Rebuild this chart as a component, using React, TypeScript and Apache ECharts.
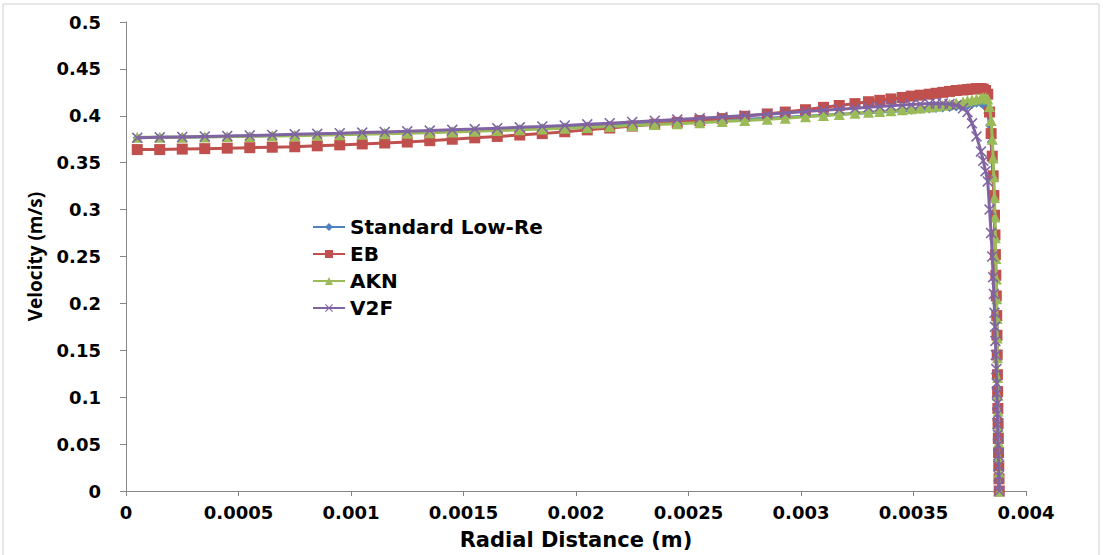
import React, { useEffect, useRef } from "react";
import * as echarts from "echarts";

// Radial positions (m) of the mesh points
const radialDistance = [
  0.00005, 0.00015, 0.00025, 0.00035, 0.00045, 0.00055, 0.00065, 0.00075, 0.00085, 0.00095,
  0.00105, 0.00115, 0.00125, 0.00135, 0.00145, 0.00155, 0.00165, 0.00175, 0.00185, 0.00195,
  0.00205, 0.00215, 0.00225, 0.00235, 0.00245, 0.00255, 0.00265, 0.00275, 0.00285,
  0.00293, 0.00302, 0.0031, 0.00317, 0.00324, 0.0033, 0.00335, 0.0034, 0.00345, 0.00349,
  0.00353, 0.00357, 0.0036, 0.00363, 0.00366, 0.00369, 0.00372, 0.00374, 0.00376, 0.00378,
  0.0038, 0.00381, 0.00382, 0.00383,
  0.003838, 0.003845, 0.00385, 0.003854, 0.003857, 0.00386, 0.003862, 0.003864, 0.003866, 0.003868,
  0.00387, 0.003871, 0.003872, 0.003873, 0.003874, 0.003875, 0.003876, 0.003877, 0.003878, 0.003879,
  0.00388, 0.003881,
];

const standardLowRe = [
  0.3765, 0.377, 0.3773, 0.3777, 0.378, 0.3785, 0.379, 0.3795, 0.38, 0.3806,
  0.3812, 0.3818, 0.3825, 0.3832, 0.3839, 0.3847, 0.3855, 0.3863, 0.3872, 0.3881,
  0.389, 0.39, 0.391, 0.392, 0.393, 0.3941, 0.3952, 0.3963, 0.3974,
  0.3984, 0.3996, 0.4007, 0.4016, 0.4025, 0.4033, 0.404, 0.4047, 0.4054, 0.406,
  0.4066, 0.4072, 0.4077, 0.4082, 0.4088, 0.4094, 0.41, 0.4108, 0.412, 0.4135,
  0.4135, 0.412, 0.409, 0.403,
  0.39, 0.372, 0.352, 0.332, 0.312, 0.291, 0.27, 0.249, 0.228, 0.207,
  0.186, 0.166, 0.146, 0.126, 0.107, 0.09, 0.073, 0.057, 0.042, 0.027,
  0.012, 0.0,
];

const eb = [
  0.364, 0.364, 0.3645, 0.365, 0.3655, 0.366, 0.3665, 0.367, 0.368, 0.369,
  0.37, 0.371, 0.372, 0.3735, 0.375, 0.3765, 0.378, 0.3795, 0.381, 0.383,
  0.385, 0.387, 0.389, 0.391, 0.393, 0.395, 0.397, 0.3995, 0.402,
  0.404, 0.4065, 0.409, 0.411, 0.413, 0.415, 0.4165, 0.418, 0.4195, 0.421,
  0.422, 0.423, 0.424, 0.425, 0.426, 0.427, 0.4275, 0.428, 0.4285, 0.429,
  0.429, 0.4285, 0.427, 0.423,
  0.404, 0.381, 0.357, 0.336, 0.315, 0.294, 0.273, 0.252, 0.23, 0.208,
  0.187, 0.166, 0.145, 0.124, 0.106, 0.088, 0.072, 0.056, 0.041, 0.027,
  0.013, 0.0,
];

const akn = [
  0.377, 0.377, 0.3772, 0.3775, 0.3778, 0.378, 0.3784, 0.3788, 0.3792, 0.3797,
  0.3802, 0.3808, 0.3814, 0.382, 0.3827, 0.3834, 0.3842, 0.385, 0.3858, 0.3867,
  0.3876, 0.3886, 0.3896, 0.3906, 0.3916, 0.3927, 0.3938, 0.395, 0.3962,
  0.3975, 0.399, 0.4003, 0.4015, 0.4027, 0.4037, 0.4046, 0.4055, 0.4065, 0.4074,
  0.4083, 0.4093, 0.4101, 0.4112, 0.4124, 0.4137, 0.415, 0.416, 0.417, 0.418,
  0.419, 0.4195, 0.4195, 0.418,
  0.41, 0.395, 0.375, 0.355, 0.335, 0.313, 0.292, 0.27, 0.248, 0.226,
  0.205, 0.184, 0.163, 0.142, 0.121, 0.102, 0.085, 0.068, 0.052, 0.036,
  0.02, 0.0,
];

const v2f = [
  0.3765, 0.377, 0.3775, 0.378, 0.3785, 0.379, 0.3796, 0.3802, 0.3808, 0.3814,
  0.3821, 0.3828, 0.3835, 0.3843, 0.3851, 0.3859, 0.3868, 0.3877, 0.3886, 0.3897,
  0.3909, 0.3921, 0.3934, 0.3947, 0.396, 0.3974, 0.3988, 0.4002, 0.4016,
  0.403, 0.4045, 0.4058, 0.4069, 0.408, 0.409, 0.4098, 0.4106, 0.4114, 0.412,
  0.4126, 0.413, 0.4132, 0.4131, 0.4125, 0.4112, 0.408, 0.404, 0.392, 0.378,
  0.362, 0.352, 0.341, 0.33,
  0.3, 0.275, 0.25, 0.228, 0.21, 0.19, 0.175, 0.16, 0.145, 0.13,
  0.115, 0.104, 0.093, 0.082, 0.071, 0.06, 0.049, 0.038, 0.027, 0.016,
  0.006, 0.0,
];

const seriesNames = ["Standard Low-Re", "EB", "AKN", "V2F"];
const seriesColors = ["#4F81BD", "#C0504D", "#9BBB59", "#8064A2"];

const X_SYMBOL = "path://M0,1L1,0L5,4L9,0L10,1L6,5L10,9L9,10L5,6L1,10L0,9L4,5Z";

export default function App() {
  const ref = useRef<HTMLDivElement>(null);

  useEffect(() => {
    if (!ref.current) return;
    const chart = echarts.init(ref.current, null, { renderer: "svg" });
    const values = [standardLowRe, eb, akn, v2f];
    const symbols = ["diamond", "rect", "triangle", X_SYMBOL];
    const sizes = [9, 11, 11, 11];

    const series = values.map((vals, i) => ({
      name: seriesNames[i],
      type: "line",
      data: radialDistance.map((x, k) => [x, vals[k]]),
      symbol: symbols[i],
      symbolSize: sizes[i],
      showSymbol: true,
      lineStyle: { width: 3, color: seriesColors[i] },
      itemStyle: { color: seriesColors[i] },
      z: 2 + i,
    }));

    chart.setOption({
      animation: false,
      backgroundColor: "#ffffff",
      graphic: [
        {
          type: "rect",
          shape: { x: 3, y: 4, width: 1096, height: 600 },
          style: { fill: "none", stroke: "#d0d0d0", lineWidth: 1 },
          silent: true,
        },
      ],
      legend: {
        data: seriesNames,
        orient: "vertical",
        left: 312,
        top: 217,
        padding: 0,
        itemWidth: 32,
        itemHeight: 10,
        itemGap: 7,
        textStyle: {
          fontFamily: "DejaVu Sans",
          fontWeight: "bold",
          fontSize: 20,
          color: "#000",
          lineHeight: 20,
        },
      },
      grid: { left: 126, right: 77, top: 22, bottom: 57, containLabel: false },
      xAxis: {
        type: "value",
        min: 0,
        max: 0.004,
        interval: 0.0005,
        name: "Radial Distance (m)",
        nameLocation: "middle",
        nameGap: 38,
        nameTextStyle: {
          fontFamily: "DejaVu Sans",
          fontWeight: "bold",
          fontSize: 21,
          color: "#000",
          lineHeight: 21,
        },
        axisLine: { show: true, lineStyle: { color: "#868686", width: 1 } },
        axisTick: { show: true, length: 5, lineStyle: { color: "#868686" } },
        splitLine: { show: false },
        axisLabel: {
          margin: 12,
          fontFamily: "DejaVu Sans",
          fontWeight: "bold",
          fontSize: 18,
          lineHeight: 18,
          color: "#000",
        },
      },
      yAxis: {
        type: "value",
        min: 0,
        max: 0.5,
        interval: 0.05,
        name: "Velocity (m/s)",
        nameLocation: "middle",
        nameGap: 82,
        nameRotate: 90,
        nameTextStyle: {
          fontFamily: "Open Sans",
          fontWeight: "bold",
          fontSize: 19,
          color: "#000",
        },
        axisLine: { show: true, lineStyle: { color: "#868686", width: 1 } },
        axisTick: { show: true, length: 6, lineStyle: { color: "#868686" } },
        splitLine: { show: false },
        axisLabel: {
          margin: 25,
          fontFamily: "DejaVu Sans",
          fontWeight: "bold",
          fontSize: 18,
          color: "#000",
        },
      },
      series,
    });

    return () => chart.dispose();
  }, []);

  return (
    <div
      ref={ref}
      style={{ position: "fixed", left: 0, top: 0, width: 1103, height: 555 }}
    />
  );
}
